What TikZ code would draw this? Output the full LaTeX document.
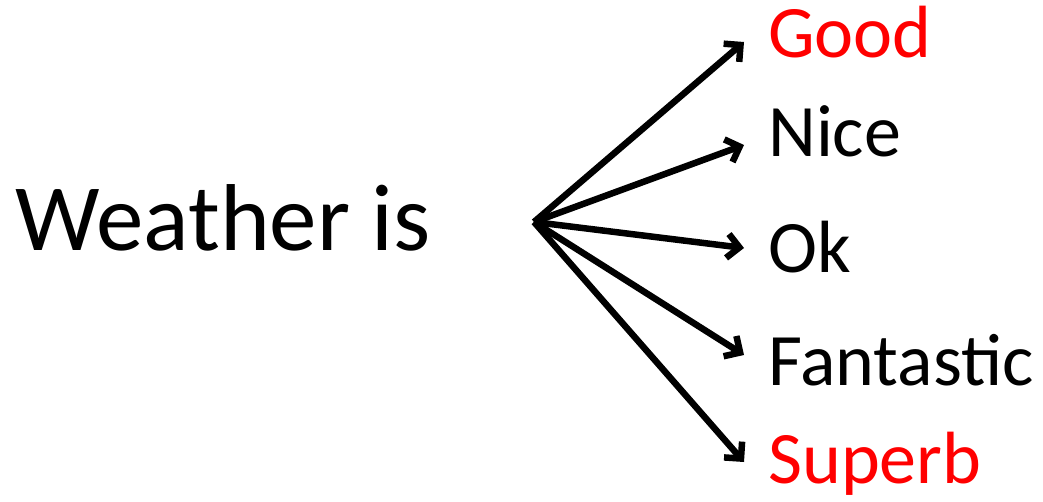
\documentclass[tikz,border=0pt]{standalone}
\usepackage{fontspec}
\setmainfont{Carlito}
\usetikzlibrary{arrows.meta}
\begin{document}
\begin{tikzpicture}[x=1pt,y=1pt,
  word/.style={anchor=base west,inner sep=0pt,font=\fontsize{74}{78}\selectfont},
  hot/.style={word,text=red},
  branch/.style={line width=6.5pt,-{Straight Barb[length=12pt,width=24pt]}}]
\useasboundingbox (0,0) rectangle (1043,501);
\node[anchor=base west,inner sep=0pt,font=\fontsize{95}{98}\selectfont] (w) at (15,250) {Weather is};
\coordinate (o) at (534,279);
\node[hot]  (good)  at (768,443) {Good};
\node[word] (nice)  at (768,344) {Nice};
\node[word] (ok)    at (768,229) {Ok};
\node[word] (fan)   at (768,116) {Fantastic};
\node[hot]  (sup)   at (768,18)  {Superb};
\coordinate (tg) at (744,459);
\coordinate (tn) at (744,356);
\coordinate (to) at (744,253);
\coordinate (tf) at (744,146);
\coordinate (ts) at (744,39);
\foreach \t in {tg,tn,to,tf,ts} \draw[branch] (o) -- (\t);
\end{tikzpicture}
\end{document}
